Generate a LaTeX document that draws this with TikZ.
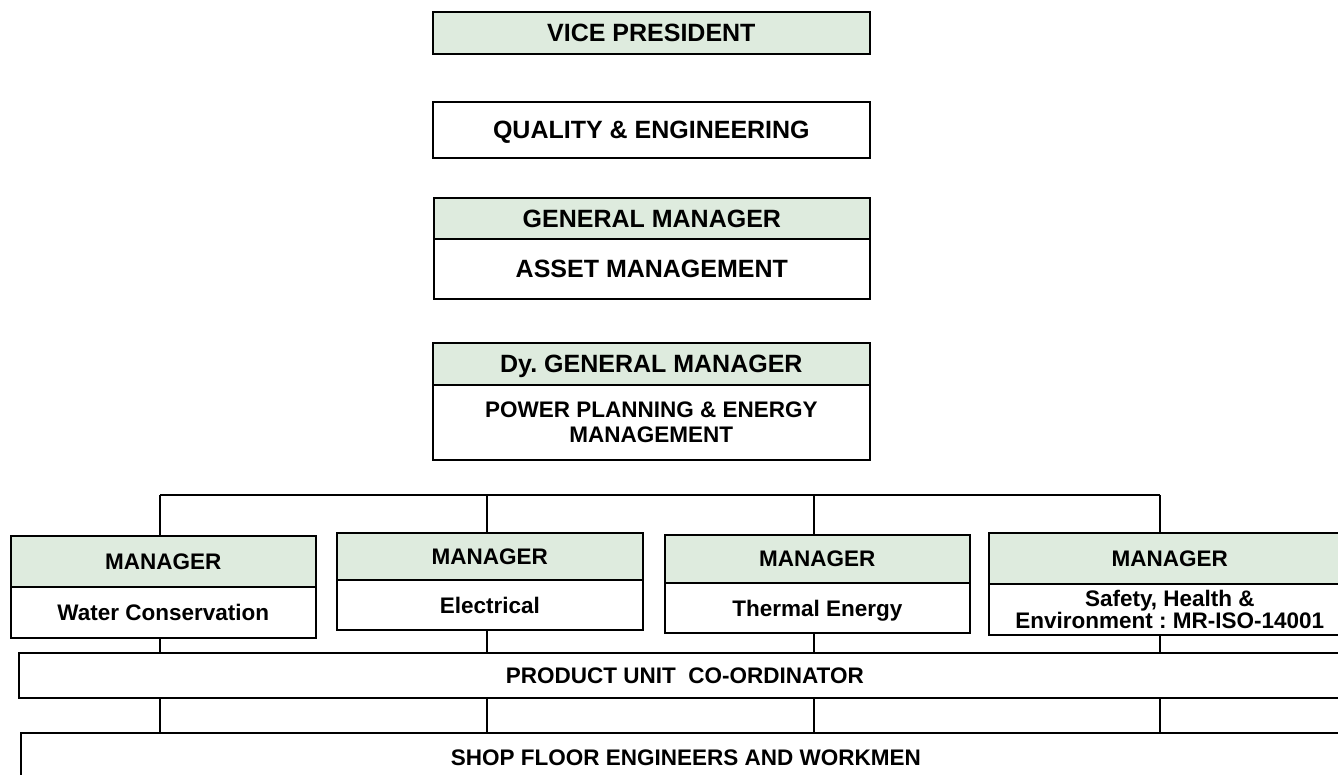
\documentclass[tikz,border=0pt]{standalone}
\usepackage{fontspec}
\setmainfont{Liberation Sans}
\definecolor{headgreen}{RGB}{222,235,222}
\frenchspacing
\begin{document}
\begin{tikzpicture}[x=1pt,y=-1pt,
  box/.style={draw=black, line width=1.7pt, rectangle, inner sep=0pt,
    anchor=north west, align=center, text depth=0pt, fill=white,
    font=\bfseries\fontsize{22.5}{20}\selectfont},
  head/.style={box, fill=headgreen},
  big/.style={font=\bfseries\fontsize{25}{28}\selectfont},
  link/.style={draw=black, line width=1.7pt}]
\clip (0,0) rectangle (1338,775);
\fill[white] (0,0) rectangle (1338,775);

% executive chain
\node[head, big, minimum width=437pt, minimum height=42pt] (vp) at (432,11) {VICE PRESIDENT};
\node[box, big, minimum width=437pt, minimum height=56pt] (qe) at (432,101) {QUALITY \& ENGINEERING};
\node[head, big, minimum width=436pt, minimum height=41pt] (gmh) at (433,197) {GENERAL MANAGER};
\node[box, big, minimum width=436pt, minimum height=60pt] (gmb) at (433,238) {ASSET MANAGEMENT};
\node[head, big, minimum width=437pt, minimum height=42pt] (dgh) at (432,342) {Dy. GENERAL MANAGER};
\node[box, minimum width=437pt, minimum height=75pt, font=\bfseries\fontsize{22.5}{25}\selectfont] (dgb) at (432,384)
  {POWER PLANNING \& ENERGY\\MANAGEMENT};

% managers
\node[head, minimum width=305pt, minimum height=51pt] (m1h) at (10,535) {MANAGER};
\node[box, minimum width=305pt, minimum height=51pt] (m1b) at (10,586) {Water Conservation};
\node[head, minimum width=306pt, minimum height=47pt] (m2h) at (336,532) {MANAGER};
\node[box, minimum width=306pt, minimum height=50pt] (m2b) at (336,579) {Electrical};
\node[head, minimum width=305pt, minimum height=48pt] (m3h) at (664,534) {MANAGER};
\node[box, minimum width=305pt, minimum height=50pt] (m3b) at (664,582) {Thermal Energy};
\node[head, minimum width=362pt, minimum height=51pt] (m4h) at (988,532) {MANAGER};
\node[box, minimum width=362pt, minimum height=51pt, font=\bfseries\fontsize{22.5}{20}\selectfont] (m4b) at (988,583)
  {Safety, Health \&\\Environment : MR-ISO-14001};

% coordinator and shop floor
\node[box, minimum width=1332pt, minimum height=45pt] (pu) at (18,652) {PRODUCT UNIT\ \ CO-ORDINATOR};
\node[box, minimum width=1330pt, minimum height=50pt] (sf) at (20,732) {SHOP FLOOR ENGINEERS AND WORKMEN};

% distribution bus above the managers
\coordinate (b1) at (160,495);
\coordinate (b2) at (487,495);
\coordinate (b3) at (814,495);
\coordinate (b4) at (1160,495);
\draw[link] (b1) -- (b4);
\foreach \i in {1,...,4}{
  \draw[link] (b\i) -- (b\i |- m\i h.north);
  \draw[link] (b\i |- m\i b.south) -- (b\i |- pu.north);
  \draw[link] (b\i |- pu.south) -- (b\i |- sf.north);
}
\end{tikzpicture}
\end{document}
